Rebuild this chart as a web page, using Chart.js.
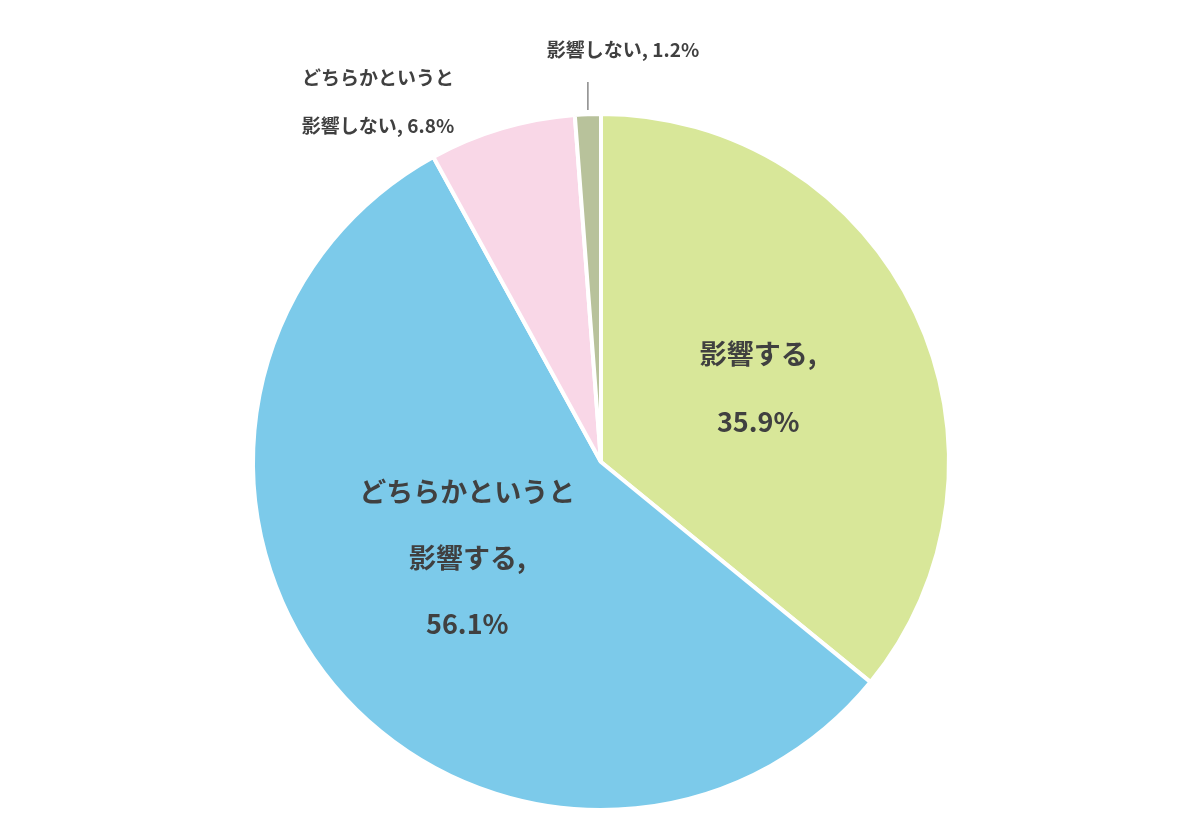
<!DOCTYPE html>
<html><head><meta charset="utf-8">
<script src="https://cdn.jsdelivr.net/npm/chart.js@4"></script>
<style>html,body{margin:0;background:#fff}#w{width:1200px;height:840px}</style>
</head><body><div id="w"><canvas id="c"></canvas></div>
<script>
const categories = ["影響する", "どちらかというと影響する", "どちらかというと影響しない", "影響しない"];
const values = [35.9, 56.1, 6.8, 1.2];
const labelLines = [["影響する,", "35.9%"], ["どちらかというと", "影響する,", "56.1%"], ["どちらかというと", "影響しない, 6.8%"], ["影響しない, 1.2%"]];
const colors = ["#d8e799", "#7ccaea", "#f9d7e7", "#b8c29b"];

const labelPlugin = {
  id: 'lbl',
  afterDatasetsDraw(chart) {
    const ctx = chart.ctx;
    const meta = chart.getDatasetMeta(0);
    const cfg = [
      {r: 0.5, dx: 0, dy: 0, size: 27, gap: 68},
      {r: 0.5, dx: 0, dy: -16, size: 27, gap: 66},
      {r: 1.0, dx: -106, dy: 0, size: 19, gap: 48, abs: [-223, -360]},
      {r: 1.0, dx: 0, dy: 0, size: 19, gap: 0, abs: [22, -412]}
    ];
    ctx.save();
    ctx.fillStyle = '#404040';
    ctx.textAlign = 'center';
    ctx.textBaseline = 'middle';
    meta.data.forEach((arc, i) => {
      const c = cfg[i];
      const mid = (arc.startAngle + arc.endAngle) / 2;
      let x, y;
      if (c.abs) { x = arc.x + c.abs[0]; y = arc.y + c.abs[1]; }
      else { x = arc.x + Math.cos(mid) * arc.outerRadius * c.r + c.dx; y = arc.y + Math.sin(mid) * arc.outerRadius * c.r + c.dy; }
      ctx.font = 'bold ' + c.size + 'px "Noto Sans CJK JP"';
      const lines = labelLines[i];
      const y0 = y - (lines.length - 1) * c.gap / 2;
      lines.forEach((t, k) => ctx.fillText(t, x, y0 + k * c.gap));
    });
    // leader line for smallest slice
    const a = meta.data[3];
    const m = (a.startAngle + a.endAngle) / 2;
    const lx = a.x + Math.cos(m) * a.outerRadius;
    ctx.strokeStyle = '#888';
    ctx.lineWidth = 1.5;
    ctx.beginPath();
    ctx.moveTo(lx, a.y - a.outerRadius - 4);
    ctx.lineTo(lx, a.y - a.outerRadius - 32);
    ctx.stroke();
    ctx.restore();
  }
};

new Chart(document.getElementById('c'), {
  type: 'pie',
  data: { labels: categories, datasets: [{ data: values, backgroundColor: colors, borderColor: '#fff', borderWidth: 4 }] },
  options: {
    responsive: true, maintainAspectRatio: false, animation: false,
    layout: { padding: { top: 112, bottom: 28, left: 251, right: 249 } },
    plugins: { legend: { display: false }, tooltip: { enabled: false } }
  },
  plugins: [labelPlugin]
});
</script></body></html>
